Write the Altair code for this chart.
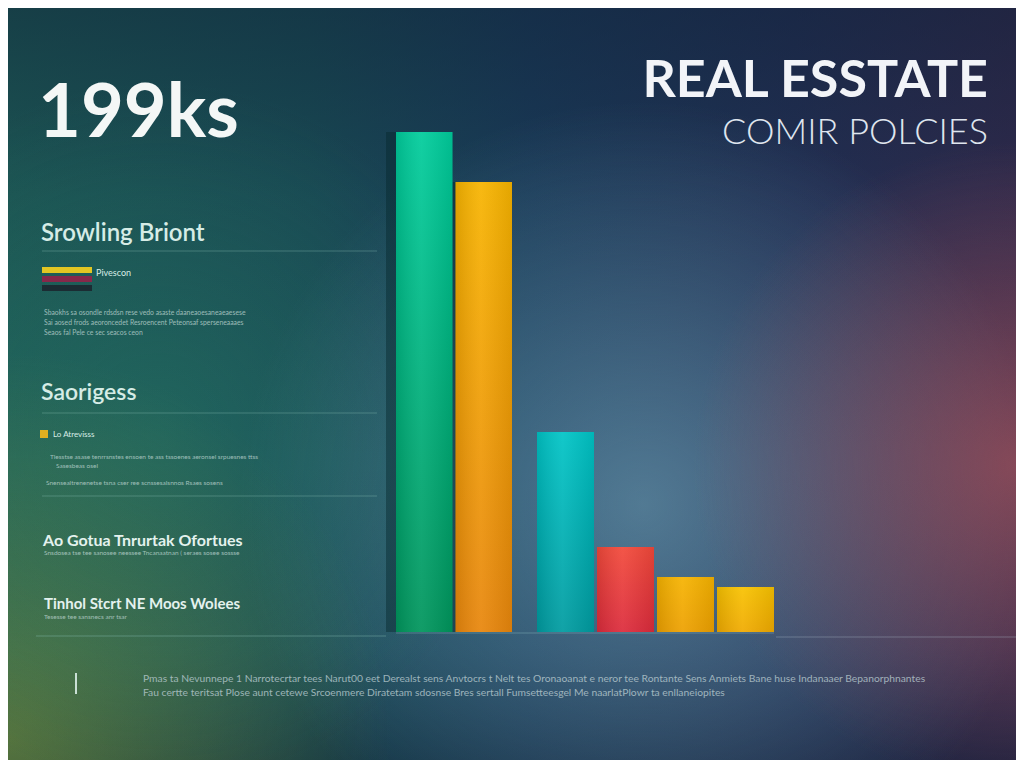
import altair as alt
import pandas as pd

W, H = 1008, 752

# ---------------- data ----------------
bar_items = ["Zone A", "Zone B", "Zone C", "Zone D", "Zone E", "Zone F"]
bar_values = [100, 90, 40, 17, 11, 9]
bar_groups = ["G1", "G1", "G2", "G2", "G2", "G2"]
bar_top_colors = ["#00cc9c", "#f7b400", "#00c4c6", "#f2493a", "#f6b300", "#f8c200"]
bar_bottom_colors = ["#00955c", "#e8860c", "#009ba0", "#dc2b3c", "#eda000", "#f0aa00"]

headline = "199ks"
title_main = "REAL ESSTATE"
title_sub = "COMIR POLCIES"
section_titles = ["Srowling Briont", "Saorigess", "Ao Gotua Tnrurtak Ofortues", "Tinhol Stcrt NE Moos Wolees"]
legend_label_1 = "Pivescon"
legend_label_2 = "Lo Atrevisss"
small_lines = [
    "Sbaokhs sa osondle rdsdsn rese vedo asaste daaneaoesaneaeaesese",
    "Sai aosed frods aeoroncedet Resroencent Peteonsaf sperseneaaaes",
    "Seaos fal Pele ce sec seacos ceon",
    "Tlesstse asase tenrrsnstes ensoen te ass tssoenes aeronsel srpuesnes ttss",
    "Sasesbeas osel",
    "Snensealtrenenetse tsna cser ree scnssesalsnnos Rsaes sosens",
    "Snsdosea tse tee sanosee neessee Tncanaatnan ( seraes sosee sossse",
    "Tesesse tee sansnecs anr tsar",
]
footer_lines = [
    "Pmas ta Nevunnepe 1 Narrotecrtar tees Narut00 eet Derealst sens Anvtocrs t Nelt tes Oronaoanat e neror tee Rontante Sens Anmiets Bane huse Indanaaer Bepanorphnantes",
    "Fau certte teritsat Plose aunt cetewe Srcoenmere Diratetam sdosnse Bres sertall Fumsetteesgel Me naarlatPlowr ta enllaneiopites",
]

FONT = "Lato"
one = pd.DataFrame({"k": [0]})


def full_rect(fill):
    return alt.Chart(one).mark_rect(fill=fill).encode(
        x=alt.value(0), x2=alt.value(W), y=alt.value(0), y2=alt.value(H)
    )


def radial(cx, cy, r, color_in, color_out):
    return {
        "gradient": "radial", "x1": cx, "y1": cy, "r1": 0, "x2": cx, "y2": cy, "r2": r,
        "stops": [{"offset": 0, "color": color_in}, {"offset": 1, "color": color_out}],
    }


def linear(x1, y1, x2, y2, stops):
    return {"gradient": "linear", "x1": x1, "y1": y1, "x2": x2, "y2": y2,
            "stops": [{"offset": o, "color": c} for o, c in stops]}


def txt(s, x, y, size, color, weight="normal", align="left", opacity=1.0, font=FONT):
    return alt.Chart(one).mark_text(
        align=align, baseline="alphabetic", fontSize=size, fontWeight=weight,
        font=font, color=color, opacity=opacity
    ).encode(x=alt.value(x), y=alt.value(y), text=alt.value(s))


def hline(x1, x2, y, color="#8fc4bb", opacity=0.35, width=1.2):
    return alt.Chart(one).mark_rule(color=color, opacity=opacity, strokeWidth=width).encode(
        x=alt.value(x1), x2=alt.value(x2), y=alt.value(y)
    )


def box(x1, x2, y1, y2, color, opacity=1.0):
    return alt.Chart(one).mark_rect(color=color, opacity=opacity).encode(
        x=alt.value(x1), x2=alt.value(x2), y=alt.value(y1), y2=alt.value(y2)
    )


layers = []
# ---------------- background ----------------
layers.append(full_rect(linear(0, 0, 1, 0, [
    (0, "#1f605a"), (0.3, "#1b525a"), (0.52, "#1c3f5e"), (0.78, "#253258"), (1, "#342c50")])))
layers.append(full_rect(linear(0, 0, 0, 1, [
    (0, "rgba(14,30,52,0.5)"), (0.25, "rgba(14,30,52,0.18)"), (0.6, "rgba(14,30,52,0)"),
    (0.85, "rgba(14,30,52,0.1)"), (1, "rgba(10,22,40,0.4)")])))
layers.append(full_rect(radial(0.63, 0.62, 0.4, "rgba(115,165,185,0.6)", "rgba(115,165,185,0)")))
layers.append(full_rect(radial(1.0, 0.58, 0.32, "rgba(175,85,90,0.65)", "rgba(175,85,90,0)")))
layers.append(full_rect(radial(0.0, 0.85, 0.38, "rgba(125,145,55,0.6)", "rgba(125,145,55,0)")))
layers.append(full_rect(radial(0.15, 0.55, 0.35, "rgba(40,125,100,0.35)", "rgba(40,125,100,0)")))

# ---------------- bars ----------------
df = pd.DataFrame({"item": bar_items, "value": bar_values, "group": bar_groups})
RANGES = {"G1": [388, 504], "G2": [529, 766]}
y_enc = alt.Y("value:Q", scale=alt.Scale(domain=[0, 100], range=[624, 124]), axis=None)


def x_enc(g):
    dom = [it for it, gg in zip(bar_items, bar_groups) if gg == g]
    return alt.X("item:N", scale=alt.Scale(domain=dom, range=RANGES[g], paddingInner=0.05,
                                           paddingOuter=0), axis=None)


# shadow behind first group
layers.append(
    alt.Chart(df).transform_filter(alt.datum.group == "G1").mark_bar(
        color="#06282c", opacity=0.45, xOffset=-10
    ).encode(x=x_enc("G1"), y=y_enc)
)
for i, it in enumerate(bar_items):
    g = bar_groups[i]
    grad = linear(0, 0, 0, 1, [(0, bar_top_colors[i]), (1, bar_bottom_colors[i])])
    layers.append(
        alt.Chart(df).transform_filter(alt.datum.item == it).mark_bar(fill=grad)
        .encode(x=x_enc(g), y=y_enc)
    )
for g in ["G1", "G2"]:
    shade = linear(0, 0, 1, 0, [(0, "rgba(0,0,0,0.10)"), (0.45, "rgba(255,255,255,0.07)"),
                                (1, "rgba(0,0,0,0.08)")])
    layers.append(
        alt.Chart(df).transform_filter(alt.datum.group == g).mark_bar(fill=shade)
        .encode(x=x_enc(g), y=y_enc)
    )

# baselines
layers.append(hline(28, 378, 628, opacity=0.4))
layers.append(hline(768, 1008, 629, color="#a8b4c4", opacity=0.4))
layers.append(hline(388, 766, 625, color="#9fd0d0", opacity=0.35))

# ---------------- titles ----------------
layers.append(txt(headline, 30, 129, 74, "#f4f7f6", weight="bold"))
layers.append(txt(title_main, 980, 89, 52, "#f2f4f8", weight="bold", align="right"))
layers.append(txt(title_sub, 980, 136, 36, "#dfe5ee", weight=300, align="right"))

# ---------------- left panel ----------------
layers.append(txt(section_titles[0], 33, 233, 24, "#d6ece6", weight=600))
layers.append(hline(34, 369, 243))
layers.append(box(34, 84, 259, 265, "#e2c623"))
layers.append(box(34, 84, 268, 274, "#87284a"))
layers.append(box(34, 84, 277, 283, "#1b2c33"))
layers.append(txt(legend_label_1, 88, 268, 9, "#d8ece6"))
layers.append(txt(small_lines[0], 36, 307, 6.8, "#c4dcd8", opacity=0.75))
layers.append(txt(small_lines[1], 36, 317, 6.8, "#c4dcd8", opacity=0.75))
layers.append(txt(small_lines[2], 36, 327, 6.8, "#c4dcd8", opacity=0.75))

layers.append(txt(section_titles[1], 33, 392, 23, "#d6ece6", weight=600))
layers.append(hline(34, 369, 405))
layers.append(box(32, 40, 422, 430, "#e0b020"))
layers.append(txt(legend_label_2, 45, 429, 8, "#d8ece6"))
layers.append(txt(small_lines[3], 42, 451, 6.5, "#c4dcd8", opacity=0.75))
layers.append(txt(small_lines[4], 48, 460, 6.5, "#c4dcd8", opacity=0.75))
layers.append(txt(small_lines[5], 38, 477, 6.5, "#c4dcd8", opacity=0.75))
layers.append(hline(34, 369, 488))

layers.append(txt(section_titles[2], 35, 538, 16, "#e4f2ee", weight="bold"))
layers.append(txt(small_lines[6], 36, 547, 6.5, "#c4dcd8", opacity=0.75))
layers.append(txt(section_titles[3], 36, 601, 15, "#e4f2ee", weight="bold"))
layers.append(txt(small_lines[7], 36, 611, 6.5, "#c4dcd8", opacity=0.75))

# ---------------- footer ----------------
layers.append(alt.Chart(one).mark_rule(color="#d8ece4", strokeWidth=2, opacity=0.9).encode(
    x=alt.value(68), y=alt.value(665), y2=alt.value(686)))
layers.append(txt(footer_lines[0], 135, 674, 10.3, "#b9cbd0", opacity=0.8))
layers.append(txt(footer_lines[1], 135, 688, 10.3, "#b9cbd0", opacity=0.8))

chart = alt.layer(*layers).resolve_scale(x="independent").properties(
    width=W, height=H, padding=0, autosize="none"
).configure_view(stroke=None).configure(background="#1c3a50")

chart.save("out.html", embed_options={"renderer": "svg", "actions": False})
